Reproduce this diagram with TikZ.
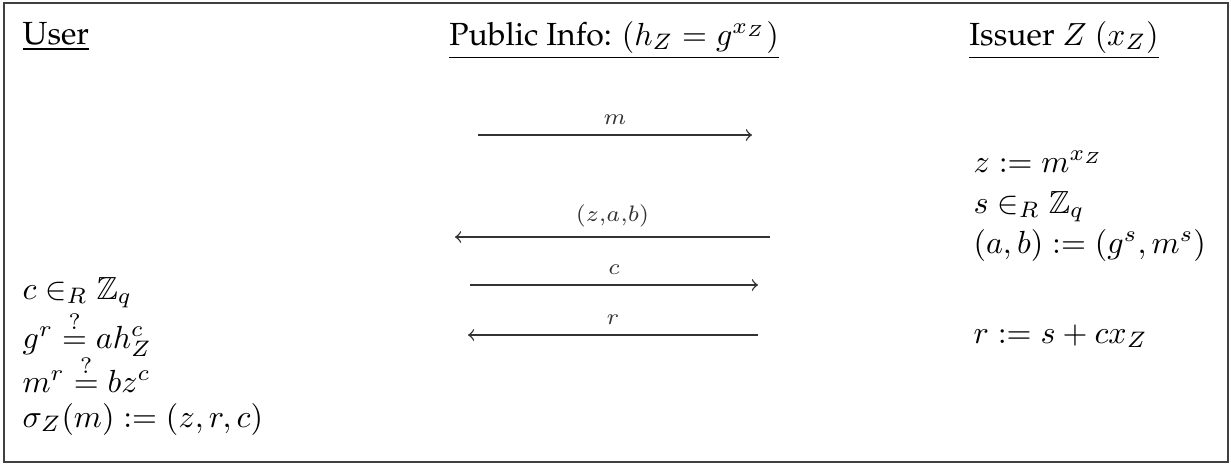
\documentclass[tikz,border=0pt]{standalone}
\usepackage{amssymb}
\newcommand{\palfont}{\fontencoding{OT1}\fontfamily{ppl}\selectfont}
\tikzset{
  head/.style={inner sep=0pt, font=\palfont},
  eq/.style={inner sep=0pt, anchor=base west},
  msg/.style={->, line width=0.45pt, black!80},
  lbl/.style={inner sep=0pt, font=\scriptsize, anchor=base}
}
\begin{document}
\begin{tikzpicture}[x=0.3125pt, y=-0.3125pt]
\useasboundingbox (0,0) rectangle (1231,464);
\draw[black!75, line width=0.5pt] (4,3) rectangle (1228,462);
% headers
\node[head, anchor=base west] (huser) at (22,44) {\underline{User}};
\node[head, anchor=base] (hpub) at (614,45) {\underline{Public Info: $(h_Z = g^{x_Z})$}};
\node[head, anchor=base] (hiss) at (1064,45) {\underline{Issuer $Z$ $(x_Z)$}};
% issuer column
\node[eq] (i1) at (973,172) {$z := m^{x_Z}$};
\node[eq] (i2) at (973,213) {$s \in_R \mathbb{Z}_q$};
\node[eq] (i3) at (973,253) {$(a,b) := (g^s, m^s)$};
\node[eq] (i4) at (973,343) {$r := s + c x_Z$};
% user column
\node[eq] (u1) at (22,299) {$c \in_R \mathbb{Z}_q$};
\node[eq] (u2) at (22,348) {$g^r \stackrel{?}{=} a h_Z^c$};
\node[eq] (u3) at (22,392) {$m^r \stackrel{?}{=} b z^c$};
\node[eq] (u4) at (22,427) {$\sigma_Z(m) := (z, r, c)$};
% message endpoints
\coordinate (m1) at (478,135);  \coordinate (m2) at (752,135);
\coordinate (z1) at (770,237);  \coordinate (z2) at (455,237);
\coordinate (c1) at (470,285);  \coordinate (c2) at (758,285);
\coordinate (r1) at (758,335);  \coordinate (r2) at (468,335);
\draw[msg] (m1) -- node[lbl, above=3pt] (lm) {$m$} (m2);
\draw[msg] (z1) -- node[lbl, above=3pt] (lz) {$(z{,}a{,}b)$} (z2);
\draw[msg] (c1) -- node[lbl, above=3pt] (lc) {$c$} (c2);
\draw[msg] (r1) -- node[lbl, above=3pt] (lr) {$r$} (r2);
\end{tikzpicture}
\end{document}
